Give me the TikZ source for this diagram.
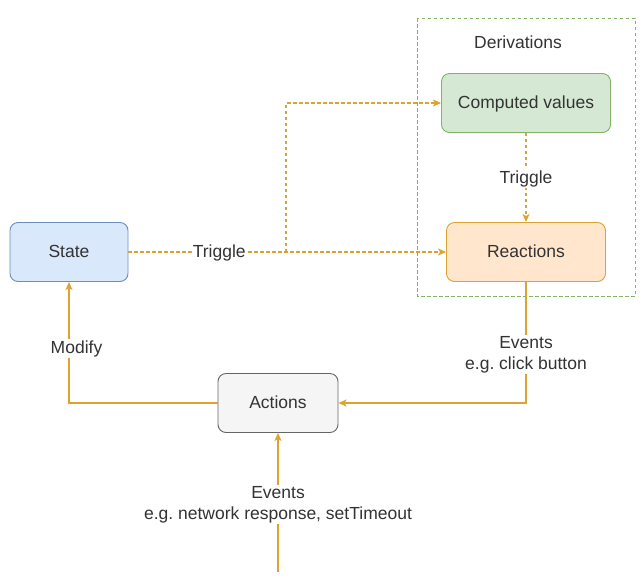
\documentclass[tikz,border=0pt]{standalone}
\usepackage{fontspec}
\setmainfont{Liberation Sans}
\usetikzlibrary{arrows.meta}
\frenchspacing
\definecolor{edgec}{HTML}{DCA332}
\definecolor{txt}{HTML}{333333}
\definecolor{bluef}{HTML}{DAE8FC}\definecolor{blued}{HTML}{6C8EBF}
\definecolor{greenf}{HTML}{D5E8D4}\definecolor{greend}{HTML}{82B366}
\definecolor{orangef}{HTML}{FFE6CC}\definecolor{oranged}{HTML}{D79B00}
\definecolor{grayf}{HTML}{F5F5F5}\definecolor{grayd}{HTML}{666666}
\tikzset{
  box/.style={rounded corners=8pt, line width=0.9pt, inner sep=0pt, font=\fontsize{17.5}{21}\selectfont, text=txt, text height=12.6pt, text depth=2.6pt},
  conn/.style={draw=edgec, line width=1.5pt, -{Stealth[length=8pt,width=7pt,inset=2pt]}},
  dconn/.style={conn, dash pattern=on 3.5pt off 2.5pt},
  lbl/.style={fill=white, inner sep=1pt, text=txt, font=\fontsize{17.5}{21}\selectfont, align=center},
}
\begin{document}
\begin{tikzpicture}[x=1pt,y=-1pt]
\useasboundingbox (0,0) rectangle (644,584);
\draw[greend, line width=0.9pt, dash pattern=on 3.5pt off 2.5pt] (417,18) rectangle (635,296);
\node[text=txt, font=\fontsize{17.5}{21}\selectfont] (der) at (518,42) {Derivations};
\node[box, draw=blued, fill=bluef, minimum width=118pt, minimum height=59pt] (state) at (69,252) {State};
\node[box, draw=greend, fill=greenf, minimum width=169pt, minimum height=59pt] (comp) at (526,103) {Computed values};
\node[box, draw=edgec, fill=orangef, minimum width=159pt, minimum height=59pt] (react) at (526,252) {Reactions};
\node[box, draw=grayd, fill=grayf, minimum width=120pt, minimum height=59pt] (act) at (278,403) {Actions};
\coordinate (br) at (286,252);
\coordinate (src) at (278,572);
\draw[dconn] (state) -- node[lbl, pos=0.286, yshift=-1pt] {Triggle} (react);
\draw[dconn] (br) |- (comp);
\draw[dconn] (comp) -- node[lbl, yshift=-1pt] {Triggle} (react);
\draw[conn] (react) |- node[lbl, pos=0.3] {Events\\e.g. click button} (act);
\draw[conn] (act) -| node[lbl, pos=0.725, xshift=7.5pt] {Modify} (state);
\draw[conn] (src) -- node[lbl, pos=0.5, yshift=-2pt] {Events\\e.g. network response, setTimeout} (act);
\end{tikzpicture}
\end{document}
